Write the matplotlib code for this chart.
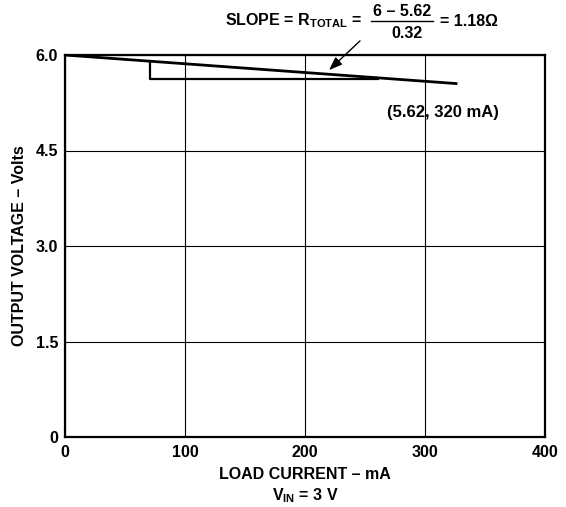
import matplotlib.pyplot as plt
from matplotlib.lines import Line2D

plt.rcParams['font.family'] = ['Liberation Sans', 'DejaVu Sans']
plt.rcParams['font.weight'] = 'bold'
plt.rcParams['mathtext.fontset'] = 'custom'
plt.rcParams['mathtext.rm'] = 'Liberation Sans:bold'
plt.rcParams['mathtext.bf'] = 'Liberation Sans:bold'
plt.rcParams['mathtext.it'] = 'Liberation Sans:bold'

# data
load_current = [0, 327]          # mA
output_voltage = [6.0, 5.55]     # V
step_current = [71, 71, 262]
step_voltage = [5.90, 5.62, 5.62]

x_ticks = [0, 100, 200, 300, 400]
y_ticks = [0, 1.5, 3.0, 4.5, 6.0]
y_tick_labels = ['0', '1.5', '3.0', '4.5', '6.0']

fs = 11.5

fig = plt.figure(figsize=(5.66, 5.07), dpi=100)
ax = fig.add_axes([65 / 566, 1 - 437 / 507, 480 / 566, 382 / 507])

ax.plot(load_current, output_voltage, color='black', lw=2.0, solid_capstyle='butt')
ax.plot(step_current, step_voltage, color='black', lw=1.6, solid_capstyle='butt')

ax.set_xlim(0, 400)
ax.set_ylim(0, 6.0)
ax.set_xticks(x_ticks)
ax.set_yticks(y_ticks)
ax.set_yticklabels(y_tick_labels)
ax.tick_params(length=0, labelsize=fs)
ax.tick_params(axis='x', pad=6)
ax.tick_params(axis='y', pad=5)
for lab in ax.get_xticklabels() + ax.get_yticklabels():
    lab.set_fontweight('bold')
ax.grid(True, color='black', lw=0.8)
for s in ax.spines.values():
    s.set_linewidth(1.6)

ax.set_ylabel('OUTPUT VOLTAGE – Volts', fontsize=fs, fontweight='bold', labelpad=6)
ax.set_xlabel('LOAD CURRENT – mA\nV$_{\\mathrm{IN}}$ = 3 V', fontsize=fs,
              fontweight='bold', labelpad=5, linespacing=1.3)

ax.text(315, 5.10, '(5.62, 320 mA)', fontsize=12, fontweight='bold',
        ha='center', va='center')

# slope equation at the top
fig.text(225 / 566, 1 - 21 / 507, 'SLOPE = R$_{\\mathrm{TOTAL}}$ =', fontsize=fs,
         fontweight='bold', ha='left', va='center')
fig.text(402 / 566, 1 - 12 / 507, '6 – 5.62', fontsize=fs, fontweight='bold',
         ha='center', va='center')
fig.text(407 / 566, 1 - 33 / 507, '0.32', fontsize=fs, fontweight='bold',
         ha='center', va='center')
fig.add_artist(Line2D([371 / 566, 433 / 566], [1 - 21 / 507, 1 - 21 / 507],
                      color='black', lw=1.0, transform=fig.transFigure))
fig.text(440 / 566, 1 - 21 / 507, '= 1.18Ω', fontsize=fs, fontweight='bold',
         ha='left', va='center')

ax.annotate('', xy=(327 / 566, 1 - 72 / 507), xycoords='figure fraction',
            xytext=(362 / 566, 1 - 39 / 507), textcoords='figure fraction',
            arrowprops=dict(arrowstyle='-|>,head_length=0.8,head_width=0.3',
                            color='black', lw=1.0))

fig.savefig('out.png', dpi=100)
